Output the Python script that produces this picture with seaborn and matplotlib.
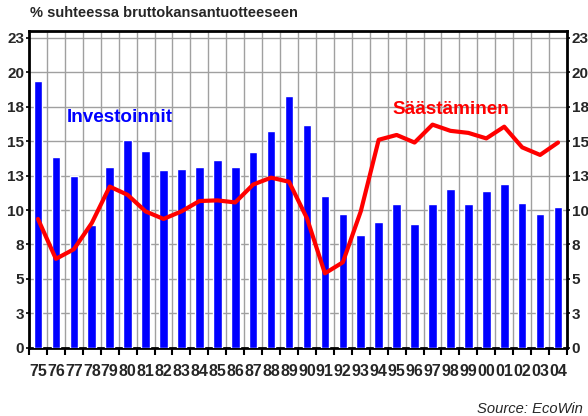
import numpy as np
import pandas as pd
import matplotlib
matplotlib.use("Agg")
import matplotlib.pyplot as plt
import seaborn as sns

years = ["75", "76", "77", "78", "79", "80", "81", "82", "83", "84", "85", "86", "87", "88", "89",
         "90", "91", "92", "93", "94", "95", "96", "97", "98", "99", "00", "01", "02", "03", "04"]
investoinnit = [19.4, 13.85, 12.5, 8.9, 13.1, 15.1, 14.3, 12.9, 13.0, 13.1, 13.6, 13.1, 14.2, 15.75, 18.3,
                16.2, 11.0, 9.7, 8.2, 9.15, 10.4, 9.0, 10.45, 11.55, 10.4, 11.4, 11.9, 10.5, 9.7, 10.25]
saastaminen = [9.35, 6.45, 7.15, 9.05, 11.7, 11.1, 9.9, 9.35, 9.9, 10.65, 10.7, 10.55, 11.85, 12.35, 12.05,
               9.4, 5.4, 6.2, 9.9, 15.1, 15.45, 14.9, 16.2, 15.75, 15.6, 15.2, 16.05, 14.55, 14.0, 14.9]
ytick_vals = [0, 2.5, 5, 7.5, 10, 12.5, 15, 17.5, 20, 22.5]
ytick_labels = ["0", "3", "5", "8", "10", "13", "15", "18", "20", "23"]

df = pd.DataFrame({"year": years, "inv": investoinnit, "sav": saastaminen, "pos": np.arange(len(years))})

sns.set_theme(style="white")
plt.rcParams['font.family'] = ['Liberation Sans', 'DejaVu Sans']

fig = plt.figure(figsize=(5.88, 4.16), dpi=100)
ax = fig.add_axes([29/588, 1 - 347.7/416, (567-29)/588, (347.7-31)/416])

sns.barplot(data=df, x="year", y="inv", color="#0000FF", width=0.48, saturation=1, ax=ax, zorder=3)
sns.lineplot(data=df, x="pos", y="sav", color="#FF0000", linewidth=3, ax=ax, zorder=4)

ax.set_xlim(-0.5, len(years) - 0.5)
ax.set_ylim(0, 23)
ax.set_xlabel("")
ax.set_ylabel("")

ax.set_yticks(ytick_vals)
ax.set_yticklabels(ytick_labels, fontweight="bold", fontsize=11)
ax.set_xticks(np.arange(len(years)))
ax.set_xticklabels(years, fontweight="bold", fontsize=11.5)
ax.set_xticks(np.arange(-0.5, len(years) + 0.5, 1), minor=True)
ax.tick_params(axis="x", which="major", length=0, pad=12)
ax.tick_params(axis="x", which="minor", length=5, width=1.5, color="black", direction="out", bottom=True)
ax.tick_params(axis="y", which="major", length=2.5, width=1.2, color="black", direction="out",
               left=True, right=True, labelleft=True, labelright=True, pad=1)
ax.grid(True, axis="y", which="major", color="#a0a0a0", linewidth=1, zorder=0)
ax.grid(True, axis="x", which="minor", color="#a0a0a0", linewidth=1, zorder=0)
ax.grid(False, axis="x", which="major")
ax.set_axisbelow(True)
for sp in ax.spines.values():
    sp.set_visible(True)
    sp.set_color("black")
    sp.set_linewidth(2)

ax.text(37.7/538, 1 - (117 - 31)/316.7, "Investoinnit", transform=ax.transAxes, color="#0000FF",
        fontweight="bold", fontsize=13.6, va="center", ha="left")
ax.text(363.7/538, 1 - (109 - 31)/316.7, "Säästäminen", transform=ax.transAxes, color="#FF0000",
        fontweight="bold", fontsize=13.6, va="center", ha="left")

fig.text(30/588, 1 - 13/416, "% suhteessa bruttokansantuotteeseen", fontweight="bold",
         fontsize=10.5, ha="left", va="center")
fig.text(583/588, 1 - 409/416, "Source: EcoWin", fontstyle="italic", fontsize=10.6,
         ha="right", va="center")

fig.savefig("out.png", dpi=100)
